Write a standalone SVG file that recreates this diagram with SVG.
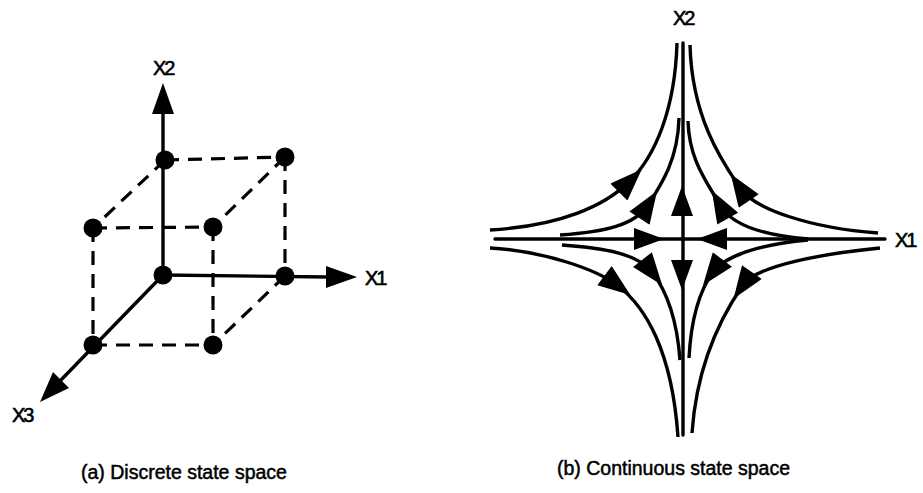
<svg xmlns="http://www.w3.org/2000/svg" width="923" height="493" viewBox="0 0 923 493">
<style>
.ln{fill:none;stroke:#000;stroke-width:3.4;stroke-linecap:round}
.ds{fill:none;stroke:#000;stroke-width:3.2;stroke-dasharray:14 9}
.lb{font-family:"Liberation Sans",Arial,sans-serif;font-size:20px;letter-spacing:-2px;fill:#000;stroke:#000;stroke-width:0.6}
.cap{font-family:"Liberation Sans",Arial,sans-serif;font-size:19.5px;fill:#000;stroke:#000;stroke-width:0.5}
.fl{fill:none;stroke:#000;stroke-width:3.4;stroke-linecap:butt;marker-mid:url(#arr)}
</style>
<defs>
<marker id="arr" markerUnits="userSpaceOnUse" markerWidth="33" markerHeight="24" viewBox="0 0 31 23" refX="15" refY="11.5" orient="auto"><path d="M0,0 L31,11.5 L0,23 z" fill="#000"/></marker>
<path id="ah" d="M15,0 L-15,-11 L-15,11 z" fill="#000"/>
</defs>
<rect width="923" height="493" fill="#fff"/>

<g id="discrete">
<g id="cube-edges">
<path class="ds" d="M165 160 L285 157"/>
<path class="ds" d="M165 160 L93 228"/>
<path class="ds" d="M285 157 L213 227"/>
<path class="ds" d="M93 228 L213 227"/>
<path class="ds" d="M285 157 L285 276"/>
<path class="ds" d="M93 228 L93 345"/>
<path class="ds" d="M213 227 L213 345"/>
<path class="ds" d="M93 345 L213 345"/>
<path class="ds" d="M285 276 L213 345"/>
</g>
<g id="axes-a">
<path class="ln" d="M163 275 L163 112"/>
<polygon points="163,83 152,114 174,114"/>
<path class="ln" d="M163 275 L328 277"/>
<polygon points="357,277 326,266 326,288"/>
<path class="ln" d="M163 275 L60 381"/>
<polygon points="40,402 53,372 69,388"/>
</g>
<g id="states">
<circle cx="165" cy="160" r="9.5"/>
<circle cx="285" cy="157" r="9.5"/>
<circle cx="93" cy="228" r="9.5"/>
<circle cx="213" cy="227" r="9.5"/>
<circle cx="163" cy="275" r="9.5"/>
<circle cx="285" cy="276" r="9.5"/>
<circle cx="93" cy="345" r="9.5"/>
<circle cx="213" cy="345" r="9.5"/>
</g>
<text class="lb" x="153" y="75">X2</text>
<text class="lb" x="365" y="285">X1</text>
<text class="lb" x="12" y="422">X3</text>
<text class="cap" x="81" y="479">(a) Discrete state space</text>
</g>

<g id="continuous">
<g id="axes-b">
<path class="ln" d="M683 43 L683 435"/>
<path class="ln" d="M495 239 L885 239"/>
<use href="#ah" transform="translate(649,239)"/>
<use href="#ah" transform="translate(712,239) rotate(180)"/>
<use href="#ah" transform="translate(682,201) rotate(-90)"/>
<use href="#ah" transform="translate(682,275) rotate(90)"/>
</g>
<g id="flows">
<path class="fl" d="M490 230 C560 226,605 206,630 181 C655 156,675 110,677 43"/>
<path class="fl" d="M560 235 C605 232,635 225,648 205 C661 185,678 160,679 118"/>
<path class="fl" d="M808 239 C770 236,733 228,720 205 C707 182,689 160,688 121"/>
<path class="fl" d="M878 233 C810 228,754 209,740 188 C724 164,692 120,690 45"/>
<path class="fl" d="M490 248 C545 251,597 270,617 285 C645 306,672 350,678 437"/>
<path class="fl" d="M562 245 C605 248,638 254,652 272 C666 290,677 320,680 360"/>
<path class="fl" d="M808 240 C765 244,727 254,713 272 C700 290,691 320,689 358"/>
<path class="fl" d="M880 248 C820 254,756 266,743 285 C725 311,697 360,692 433"/>
</g>
<text class="lb" x="673" y="25">X2</text>
<text class="lb" x="895" y="247">X1</text>
<text class="cap" x="557" y="475">(b) Continuous state space</text>
</g>
</svg>
